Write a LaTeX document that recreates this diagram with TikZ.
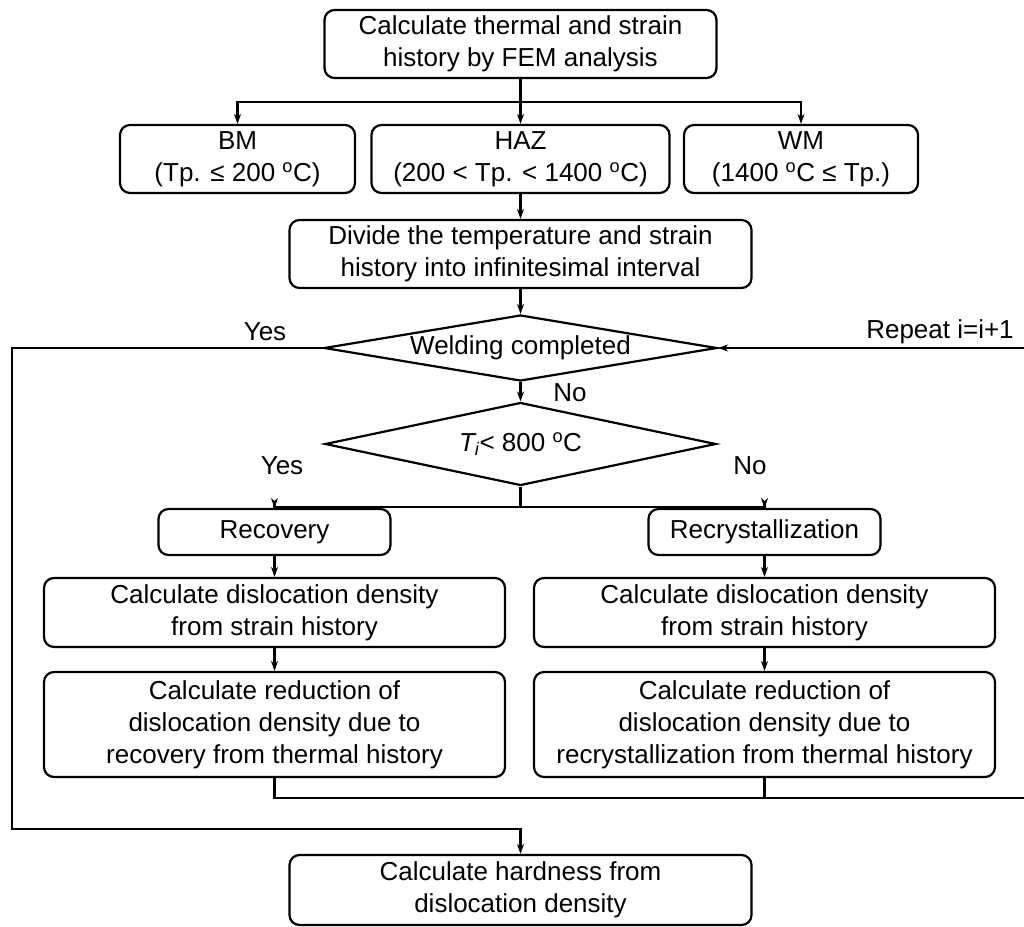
\documentclass[tikz,border=0pt]{standalone}
\usepackage{fontspec}
\setmainfont{Liberation Sans}
\usetikzlibrary{shapes.geometric,arrows.meta}

\newcommand{\degC}{\textsuperscript{o}C}

\begin{document}
\begin{tikzpicture}[
    x=1pt, y=-1pt,
    >={Stealth[length=10pt,width=7pt]},
    line width=2.2pt,
    block/.style={
        draw,
        rectangle,
        rounded corners=10pt,
        inner sep=0pt,
        align=center,
        font=\fontsize{26}{32}\selectfont
    },
    decision/.style={
        draw,
        diamond,
        aspect=6,
        inner sep=0pt,
        font=\fontsize{26}{32}\selectfont
    },
    tag/.style={
        inner sep=0pt,
        font=\fontsize{26}{32}\selectfont
    }
]

    \useasboundingbox (0,0) rectangle (1024,926);
    \clip (0,0) rectangle (1024,926);

    % Nodes
    \node[block, minimum width=392pt, minimum height=68pt] (fem) at (520.5,44)
    {Calculate thermal and strain\\history by FEM analysis};

    \node[block, minimum width=235pt, minimum height=68pt] (bm) at (237.5,159)
    {BM\\(Tp. ≤ 200 \degC)};
    \node[block, minimum width=298pt, minimum height=68pt] (haz) at (520.5,159)
    {HAZ\\(200 < Tp. < 1400 \degC)};
    \node[block, minimum width=234pt, minimum height=68pt] (wm) at (801,159)
    {WM\\(1400 \degC\ ≤ Tp.)};

    \node[block, minimum width=462pt, minimum height=68pt] (divide) at (520.5,254)
    {Divide the temperature and strain\\history into infinitesimal interval};

    \node[decision, minimum width=393pt, minimum height=66pt] (weld) at (520.5,348)
    {Welding completed};
    \node[decision, minimum width=391pt, minimum height=83pt] (temp) at (520.5,444)
    {{\itshape T\textsubscript{i}}< 800 \degC};

    \node[block, minimum width=232pt, minimum height=46pt] (recov) at (274.5,532)
    {Recovery};
    \node[block, minimum width=232pt, minimum height=46pt] (recry) at (764.5,532)
    {Recrystallization};

    \node[block, minimum width=461pt, minimum height=69pt] (dislL) at (274.5,612.5)
    {Calculate dislocation density\\from strain history};
    \node[block, minimum width=461pt, minimum height=69pt] (dislR) at (764.5,612.5)
    {Calculate dislocation density\\from strain history};

    \node[block, minimum width=461pt, minimum height=105pt] (reduL) at (274.5,724.5)
    {Calculate reduction of\\dislocation density due to\\recovery from thermal history};
    \node[block, minimum width=461pt, minimum height=105pt] (reduR) at (764.5,724.5)
    {Calculate reduction of\\dislocation density due to\\recrystallization from thermal history};

    \node[block, minimum width=462pt, minimum height=70pt] (hard) at (520.5,890)
    {Calculate hardness from\\dislocation density};

    % Labels
    \node[tag] (yes1) at (265,332) {Yes};
    \node[tag] (rep) at (940,332) {Repeat i=i+1};
    \node[tag] (no1) at (570,393) {No};
    \node[tag] (yes2) at (282,466) {Yes};
    \node[tag] (no2) at (750,466) {No};

    % Helper points
    \coordinate (split1) at (520.5,102);
    \coordinate (split2) at (520.5,507);
    \coordinate (yesB) at (12,829);
    \coordinate (loopR) at (1030,798);

    % Arrows
    \draw (fem.south) -- (split1);
    \draw[->] (split1) -| (bm.north);
    \draw[->] (split1) -- (haz.north);
    \draw[->] (split1) -| (wm.north);
    \draw[->] (haz.south) -- (divide.north);
    \draw[->] (divide.south) -- (weld.north);
    \draw[->] (weld.south) -- (temp.north);
    \draw (temp.south) -- (split2);
    \draw[->] (split2) -| (recov.north);
    \draw[->] (split2) -| (recry.north);
    \draw[->] (recov.south) -- (dislL.north);
    \draw[->] (recry.south) -- (dislR.north);
    \draw[->] (dislL.south) -- (reduL.north);
    \draw[->] (dislR.south) -- (reduR.north);

    % Loop back and exit
    \draw (reduL.south) |- (loopR);
    \draw (reduR.south) -- (reduR.south |- loopR);
    \draw[->] (loopR) |- (weld.east);
    \draw[->] (weld.west) -| (yesB) -| (hard.north);

\end{tikzpicture}
\end{document}
